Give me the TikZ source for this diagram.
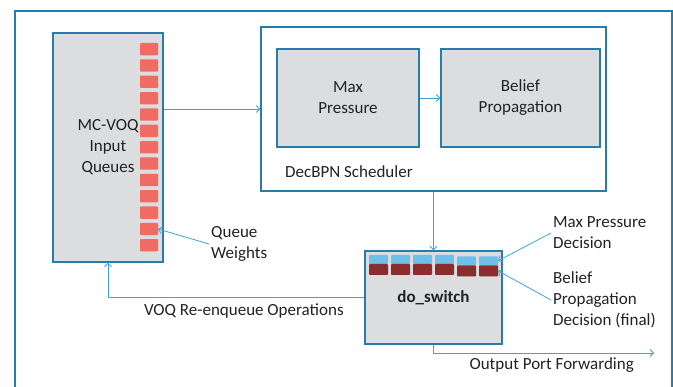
\documentclass[tikz,border=0pt]{standalone}
\usepackage{fontspec}
\setmainfont{Carlito}
\usetikzlibrary{positioning, arrows.meta, calc}

\definecolor{frameblue}{HTML}{2A7BA5}
\definecolor{linkblue}{HTML}{3FA3D6}
\definecolor{boxgray}{HTML}{DCDDDF}
\definecolor{qred}{HTML}{F26B63}
\definecolor{decblue}{HTML}{6EC0EA}
\definecolor{decred}{HTML}{8A2D2D}
\definecolor{txtgray}{HTML}{222222}

\tikzset{
    block/.style={draw=frameblue, line width=1.3pt, fill=boxgray, align=center,
        text=txtgray, inner sep=0pt},
    frame/.style={draw=frameblue, line width=1.3pt},
    link/.style={draw=linkblue, line width=0.8pt, -{Straight Barb[length=3.5pt, width=7pt]}},
    lbl/.style={text=txtgray, align=left, inner sep=2pt},
    cell/.style={rounded corners=0.8pt, draw=none},
}

\begin{document}
\begin{tikzpicture}[x=1pt, y=-1pt, font=\fontsize{17}{21}\selectfont]
    \clip (0,0) rectangle (673,387);
    \useasboundingbox (0,0) rectangle (673,387);

    % outer frame, its bottom edge lies below the picture
    \draw[frame] (15,11) rectangle (672,400);

    \node[block, minimum width=110pt, minimum height=229pt] (voq) at (108,147.5)
        {MC-VOQ\\Input\\Queues};
    \foreach \i in {0,...,12}
        \fill[cell, fill=qred] (140,{43+16.35*\i}) rectangle (158,{55.3+16.35*\i});
    \foreach \i in {0,...,12}
        \coordinate (q\i) at (158,{49.15+16.35*\i});

    \node[frame, fill=white, minimum width=345pt, minimum height=164pt] (sched) at (433.5,109) {};
    \node[block, minimum width=142pt, minimum height=98pt] (mp) at (348,98) {Max\\Pressure};
    \node[block, minimum width=159pt, minimum height=98pt] (bp) at (520.5,98) {Belief\\Propagation};
    \node[lbl, anchor=west] (schedlbl) at (283,172) {DecBPN Scheduler};

    \node[block, minimum width=137pt, minimum height=93pt] (sw) at (433.5,297.5)
        {\bfseries do\_switch};
    \foreach \i in {0,...,5} {
        \pgfmathsetmacro\dy{\i>3 ? 1.3 : 0}
        \fill[cell, fill=decblue] ({369+22*\i},{255+\dy}) rectangle ({388+22*\i},{264+\dy});
        \fill[cell, fill=decred] ({369+22*\i},{264+\dy}) rectangle ({388+22*\i},{275+\dy});
        \coordinate (b\i) at ({388+22*\i},{259.5+\dy});
        \coordinate (r\i) at ({388+22*\i},{269.5+\dy});
    }

    \node[lbl, anchor=west] (qwlbl) at (209,244) {Queue\\Weights};
    \node[lbl, anchor=west] (mplbl) at (551,233) {Max Pressure\\Decision};
    \node[lbl, anchor=west] (bplbl) at (551,300) {Belief\\Propagation\\Decision (final)};
    \coordinate (outport) at (654,353);

    \draw[link] (voq.east |- sched.west) -- (sched.west);
    \draw[link] (mp.east) -- (bp.west);
    \draw[link] (sched.south) -- (sw.north);
    \draw[link] (qwlbl.west) -- (q11);
    \draw[link] (mplbl.west) -- (b5);
    \draw[link] (bplbl.west) -- (r5);
    \draw[link] (sw.west) -| node[pos=0.235, below, lbl, yshift=-4pt] {VOQ Re-enqueue Operations} (voq.south);
    \draw[link] (sw.south) |- node[pos=0.768, below, lbl, yshift=-2pt] {Output Port Forwarding} (outport);
\end{tikzpicture}
\end{document}
